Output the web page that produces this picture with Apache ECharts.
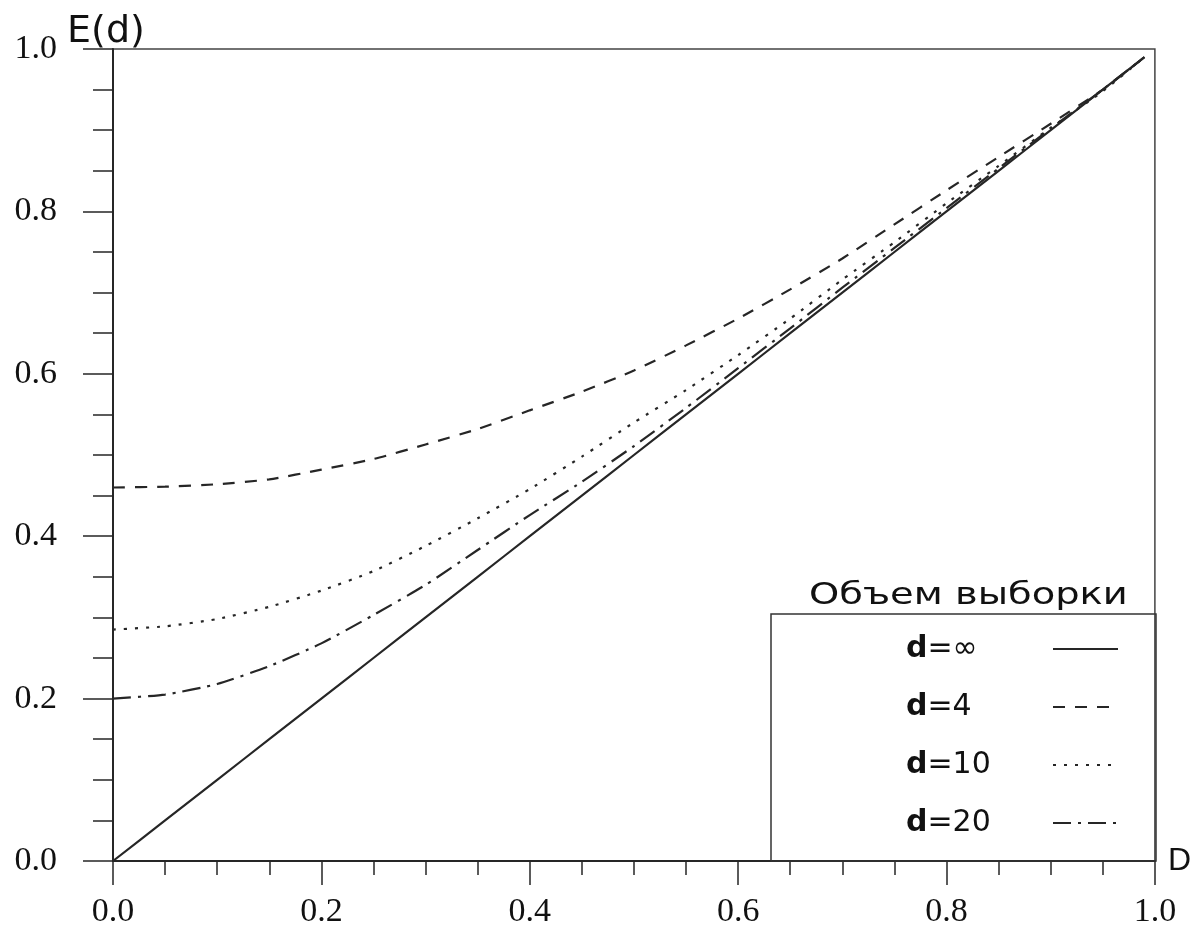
<!DOCTYPE html>
<html>
<head>
<meta charset="utf-8">
<script src="https://cdn.jsdelivr.net/npm/echarts@6/dist/echarts.min.js"></script>
<style>
  html, body { margin: 0; padding: 0; background: #fff; }
  #chart { width: 1194px; height: 929px; }
</style>
</head>
<body>
<div id="chart"></div>
<script>
// D values where E(d) is sampled
const xValues = [0, 0.05, 0.1, 0.15, 0.2, 0.25, 0.3, 0.35, 0.4, 0.45, 0.5,
                 0.55, 0.6, 0.65, 0.7, 0.75, 0.8, 0.85, 0.9, 0.95, 0.99];

// Sample size labels
const seriesNames = ['d=∞', 'd=4', 'd=10', 'd=20'];

// E(d) for an infinite sample
const eInf = [0, 0.05, 0.1, 0.15, 0.2, 0.25, 0.3, 0.35, 0.4, 0.45, 0.5,
              0.55, 0.6, 0.65, 0.7, 0.75, 0.8, 0.85, 0.9, 0.95, 0.99];
// E(d) for d = 4
const e4 = [0.460, 0.461, 0.464, 0.470, 0.482, 0.495, 0.513, 0.532, 0.555, 0.578, 0.604,
            0.635, 0.668, 0.704, 0.742, 0.784, 0.826, 0.867, 0.908, 0.950, 0.990];
// E(d) for d = 10
const e10 = [0.285, 0.289, 0.298, 0.313, 0.333, 0.357, 0.388, 0.422, 0.458, 0.498, 0.540,
             0.580, 0.623, 0.668, 0.716, 0.762, 0.810, 0.856, 0.903, 0.948, 0.990];
// E(d) for d = 20
const e20 = [0.200, 0.205, 0.218, 0.240, 0.268, 0.303, 0.340, 0.383, 0.426, 0.467, 0.511,
             0.558, 0.607, 0.656, 0.706, 0.755, 0.804, 0.853, 0.902, 0.950, 0.990];

const seriesValues = [eInf, e4, e10, e20];
const dashPatterns = ['solid', [12, 10], [3, 8], [18, 7, 3, 7]];

const ink = '#262626';
const serif = '"Liberation Serif", "DejaVu Serif", serif';
const sans = '"DejaVu Sans", "Liberation Sans", sans-serif';

const chart = echarts.init(document.getElementById('chart'), null, { renderer: 'canvas' });

const series = seriesNames.map((name, k) => ({
  name: name,
  type: 'line',
  data: xValues.map((x, i) => [x, seriesValues[k][i]]),
  symbol: 'none',
  showSymbol: false,
  smooth: 0.2,
  color: ink,
  lineStyle: { color: ink, width: 2.2, type: dashPatterns[k] },
  silent: true,
  z: 3
}));

chart.setOption({
  animation: false,
  backgroundColor: '#fff',
  grid: {
    left: 113, right: 39, top: 49, bottom: 68,
    show: true, borderColor: '#444', borderWidth: 1.5, backgroundColor: 'transparent'
  },
  xAxis: {
    type: 'value', min: 0, max: 1, interval: 0.2,
    name: 'D', nameLocation: 'end', nameGap: 13,
    nameTextStyle: { fontFamily: '"Liberation Sans", Arial, sans-serif', fontSize: 32, color: '#111', padding: [0, 0, 22, 0] },
    axisLine: { show: true, onZero: false, lineStyle: { color: ink, width: 2 } },
    axisTick: { show: true, length: 24, lineStyle: { color: ink, width: 1.5 } },
    minorTick: { show: true, splitNumber: 4, length: 14, lineStyle: { color: ink, width: 1.5 } },
    axisLabel: { margin: 34, fontFamily: serif, fontSize: 34, color: '#111', formatter: v => v.toFixed(1) },
    splitLine: { show: false }
  },
  yAxis: {
    type: 'value', min: 0, max: 1, interval: 0.2,
    name: 'E(d)', nameLocation: 'end', nameGap: -2,
    nameTextStyle: { fontFamily: sans, fontSize: 38, color: '#111', padding: [0, 14, 0, 0] },
    axisLine: { show: true, onZero: false, lineStyle: { color: ink, width: 2 } },
    axisTick: { show: true, length: 30, lineStyle: { color: ink, width: 1.5 } },
    minorTick: { show: true, splitNumber: 4, length: 20, lineStyle: { color: ink, width: 1.5 } },
    axisLabel: { margin: 56, fontFamily: serif, fontSize: 34, color: '#111', formatter: v => v.toFixed(1) },
    splitLine: { show: false }
  },
  legend: {
    data: seriesNames,
    orient: 'vertical',
    align: 'right',
    left: 771, top: 614,
    padding: [20, 37, 23, 135],
    itemWidth: 65, itemHeight: 30, itemGap: 28,
    borderColor: '#333', borderWidth: 1.5,
    selectedMode: false,
    itemStyle: { opacity: 0 },
    lineStyle: { width: 2 },
    formatter: name => '{b|d}{r|' + name.slice(1) + '}',
    textStyle: {
      width: 142, fontFamily: sans, fontSize: 30, color: '#111',
      rich: {
        b: { fontFamily: sans, fontSize: 30, fontWeight: 'bold', color: '#111', align: 'left' },
        r: { fontFamily: sans, fontSize: 30, color: '#111', align: 'left' }
      }
    }
  },
  graphic: [{
    type: 'text',
    x: 809, y: 596,
    scaleX: 1.24,
    style: {
      text: 'Объем выборки',
      font: '31px "DejaVu Sans", sans-serif',
      fill: '#111',
      align: 'left',
      verticalAlign: 'middle'
    }
  }],
  series: series
});
</script>
</body>
</html>
